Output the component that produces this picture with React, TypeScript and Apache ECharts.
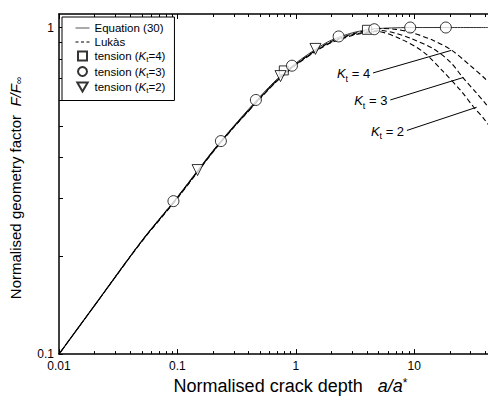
import React, { useEffect, useRef } from "react";
import * as echarts from "echarts";

// ---- data ----
const eqX = [0.01, 0.02, 0.05, 0.1, 0.2, 0.3, 0.5, 0.7, 1, 1.5, 2, 3, 4, 5, 7, 10, 20, 42];
const eqY = [0.1, 0.141, 0.222, 0.303, 0.42, 0.5, 0.615, 0.697, 0.778, 0.862, 0.915, 0.963, 0.984, 0.993, 0.998, 1.0, 1.0, 1.0];

const luk4X = [0.01, 0.02, 0.05, 0.1, 0.2, 0.3, 0.5, 0.7, 1, 1.5, 2, 3, 4, 5.2, 7, 9.25, 14.5, 20.8, 29.6, 39.6, 42];
const luk4Y = [0.1, 0.141, 0.222, 0.302, 0.418, 0.497, 0.61, 0.692, 0.772, 0.855, 0.907, 0.955, 0.98, 0.993, 0.987, 0.968, 0.913, 0.851, 0.766, 0.698, 0.68];

const luk3X = [0.01, 0.02, 0.05, 0.1, 0.2, 0.3, 0.5, 0.7, 1, 1.5, 2, 3, 4, 5.2, 7, 9.25, 14.5, 20.1, 25.5, 33.7, 39.6, 42];
const luk3Y = [0.1, 0.141, 0.222, 0.301, 0.417, 0.496, 0.608, 0.69, 0.77, 0.852, 0.903, 0.95, 0.97, 0.979, 0.96, 0.928, 0.861, 0.785, 0.706, 0.629, 0.588, 0.572];

const luk2X = [0.01, 0.02, 0.05, 0.1, 0.2, 0.3, 0.5, 0.7, 1, 1.5, 2, 3, 3.9, 4.85, 7.6, 12, 17.7, 25.2, 31.6, 38.4, 42];
const luk2Y = [0.1, 0.141, 0.221, 0.3, 0.416, 0.495, 0.606, 0.688, 0.767, 0.849, 0.899, 0.945, 0.963, 0.972, 0.924, 0.841, 0.731, 0.636, 0.572, 0.528, 0.505];

const kt4X = [0.792, 3.99];
const kt4Y = [0.739, 0.984];
const kt3X = [0.0926, 0.233, 0.46, 0.928, 2.3, 4.6, 9.25, 18.5];
const kt3Y = [0.294, 0.449, 0.6, 0.764, 0.939, 0.988, 1.0, 1.0];
const kt2X = [0.148, 0.743, 1.465];
const kt2Y = [0.366, 0.71, 0.86];

// leader lines for the K_t labels: [startX, startY, endX, endY]
const leader4 = [4.49, 0.726, 20.5, 0.851];
const leader3 = [6.28, 0.6, 26.0, 0.703];
const leader2 = [8.68, 0.484, 33.7, 0.57];

const xMajor = [0.01, 0.1, 1, 10];
const xMinor = [
  0.02, 0.03, 0.04, 0.05, 0.06, 0.07, 0.08, 0.09,
  0.2, 0.3, 0.4, 0.5, 0.6, 0.7, 0.8, 0.9,
  2, 3, 4, 5, 6, 7, 8, 9,
  20, 30, 40,
];
const yLabels = [0.1, 1];
const yTicks = [0.1, 0.2, 0.3, 0.4, 0.5, 0.6, 0.7, 0.8, 0.9, 1];

const FONT = "Liberation Sans, Arial, sans-serif";

const zip = (xs: number[], ys: number[]) => xs.map((x, i) => [x, ys[i]]);

const ktRich = {
  k: { fontStyle: "italic", fontSize: 13, lineHeight: 19, verticalAlign: "middle", fontFamily: FONT, color: "#000" },
  t: { fontSize: 9, lineHeight: 9, verticalAlign: "bottom", fontFamily: FONT, color: "#000" },
  n: { fontSize: 13, lineHeight: 19, verticalAlign: "middle", fontFamily: FONT, color: "#000" },
};

const leaderLine = (l: number[], label: string) => ({
  silent: true,
  symbol: ["none", "none"],
  lineStyle: { color: "#000", width: 1, type: "solid" },
  label: {
    show: true,
    position: "start",
    distance: 3,
    formatter: label,
    rich: ktRich,
  },
  emphasis: { disabled: true },
  data: [[{ coord: [l[0], l[1]] }, { coord: [l[2], l[3]] }]],
});

export default function App() {
  const ref = useRef<HTMLDivElement>(null);
  useEffect(() => {
    if (!ref.current) return;
    const chart = echarts.init(ref.current, null, { renderer: "svg" });
    const xBase = { type: "log", logBase: 10, min: 0.01, max: 42, gridIndex: 0, splitLine: { show: false } };
    const yBase = { type: "log", logBase: 10, min: 0.1, max: 1.1, gridIndex: 0, splitLine: { show: false } };
    const dashed = (off: number) => ({ color: "#000", width: 1.1, type: [5, 3], dashOffset: off });
    const legendText = { fontSize: 11.5, lineHeight: 15, verticalAlign: "middle", color: "#000", fontFamily: FONT };
    const option: any = {
      animation: false,
      textStyle: { fontFamily: FONT },
      grid: { left: 58, right: 0, top: 14, bottom: 44, containLabel: false },
      legend: {
        orient: "vertical",
        left: 62,
        top: 17,
        padding: [5, 9, 6, 13],
        itemGap: 2,
        itemWidth: 14,
        itemHeight: 9,
        symbolKeepAspect: true,
        backgroundColor: "#fff",
        borderColor: "#000",
        borderWidth: 1,
        borderRadius: 0,
        selectedMode: false,
        data: [
          { name: "Equation (30)", itemStyle: { opacity: 0 }, lineStyle: { color: "#555", width: 1, type: "solid" } },
          { name: "Lukàs", itemStyle: { opacity: 0 }, lineStyle: { color: "#000", width: 1, type: [3, 2.5] } },
          { name: "t4", icon: "path://M0,0L10,0L10,10L0,10Z", symbolRotate: 0 },
          { name: "t3", icon: "circle", symbolRotate: 0 },
          { name: "t2", icon: "path://M0,0L12,0L6,10.4Z", symbolRotate: 0 },
        ],
        formatter: (name: string) => {
          if (name === "t4") return "{n|tension (}{k|K}{t|t}{n|=4)}";
          if (name === "t3") return "{n|tension (}{k|K}{t|t}{n|=3)}";
          if (name === "t2") return "{n|tension (}{k|K}{t|t}{n|=2)}";
          return "{n|" + name + "}";
        },
        textStyle: {
          fontSize: 11.5,
          color: "#000",
          fontFamily: FONT,
          rich: {
            n: legendText,
            k: { ...legendText, fontStyle: "italic" },
            t: { fontSize: 8, lineHeight: 8, verticalAlign: "bottom", color: "#000", fontFamily: FONT },
          },
        },
      },
      xAxis: [
        {
          ...xBase,
          position: "bottom",
          axisLine: { show: true, lineStyle: { color: "#000", width: 1.5 } },
          axisTick: { show: true, inside: true, length: 5, customValues: xMajor, lineStyle: { color: "#000", width: 1 } },
          axisLabel: { show: true, customValues: xMajor, fontSize: 12, color: "#000", margin: 6, fontFamily: FONT, formatter: (v: number) => String(v) },
          name: "Normalised crack depth   {i|a/a}{n|*}",
          nameLocation: "middle",
          nameGap: 18,
          nameTextStyle: {
            fontSize: 18,
            color: "#000",
            fontFamily: FONT,
            padding: [0, 0, 0, 34],
            rich: {
              i: { fontSize: 18, fontStyle: "italic", color: "#000", fontFamily: FONT },
              n: { fontSize: 12, color: "#000", fontFamily: FONT, verticalAlign: "top" },
            },
          },
        },
        {
          ...xBase,
          position: "bottom",
          axisLine: { show: false },
          axisTick: { show: true, inside: true, length: 3, customValues: xMinor, lineStyle: { color: "#000", width: 1 } },
          axisLabel: { show: false },
        },
        {
          ...xBase,
          position: "top",
          axisLine: { show: true, lineStyle: { color: "#000", width: 1.5 } },
          axisTick: { show: true, inside: true, length: 5, customValues: xMajor, lineStyle: { color: "#000", width: 1 } },
          axisLabel: { show: false },
        },
        {
          ...xBase,
          position: "top",
          axisLine: { show: false },
          axisTick: { show: true, inside: true, length: 3, customValues: xMinor, lineStyle: { color: "#000", width: 1 } },
          axisLabel: { show: false },
        },
      ],
      yAxis: [
        {
          ...yBase,
          position: "left",
          axisLine: { show: true, lineStyle: { color: "#000", width: 1.5 } },
          axisTick: { show: true, inside: true, length: 4, customValues: yTicks, lineStyle: { color: "#000", width: 1 } },
          axisLabel: { show: true, customValues: yLabels, fontSize: 12, color: "#000", margin: 5, fontFamily: FONT, formatter: (v: number) => String(v) },
          name: "Normalised geometry factor  {i|F/F}{s|∞}",
          nameLocation: "middle",
          nameGap: 36,
          nameTextStyle: {
            fontSize: 15,
            color: "#000",
            fontFamily: FONT,
            padding: [0, 8, 0, 0],
            rich: {
              i: { fontSize: 15, fontStyle: "italic", color: "#000", fontFamily: FONT },
              s: { fontSize: 10, color: "#000", fontFamily: FONT, verticalAlign: "bottom" },
            },
          },
        },
      ],
      series: [
        {
          name: "Equation (30)",
          type: "line",
          data: zip(eqX, eqY),
          showSymbol: false,
          symbol: "none",
          smooth: 0.3,
          lineStyle: { color: "#333", width: 1 },
          itemStyle: { color: "#333" },
          z: 2,
        },
        {
          name: "Lukàs",
          type: "line",
          data: zip(luk4X, luk4Y),
          symbol: "none",
          smooth: 0.3,
          lineStyle: dashed(0),
          itemStyle: { color: "#000" },
          markLine: leaderLine(leader4, "{k|K}{t|t}{n| = 4}"),
          z: 3,
        },
        {
          name: "Lukàs",
          type: "line",
          data: zip(luk3X, luk3Y),
          symbol: "none",
          smooth: 0.3,
          lineStyle: dashed(2.7),
          itemStyle: { color: "#000" },
          markLine: leaderLine(leader3, "{k|K}{t|t}{n| = 3}"),
          z: 3,
        },
        {
          name: "Lukàs",
          type: "line",
          data: zip(luk2X, luk2Y),
          symbol: "none",
          smooth: 0.3,
          lineStyle: dashed(5.3),
          itemStyle: { color: "#000" },
          markLine: leaderLine(leader2, "{k|K}{t|t}{n| = 2}"),
          z: 3,
        },
        {
          name: "t4",
          type: "scatter",
          data: zip(kt4X, kt4Y),
          symbol: "rect",
          symbolSize: 9,
          itemStyle: { color: "#fff", borderColor: "#000", borderWidth: 1 },
          z: 5,
        },
        {
          name: "t3",
          type: "scatter",
          data: zip(kt3X, kt3Y),
          symbol: "circle",
          symbolSize: 11,
          itemStyle: { color: "#fff", borderColor: "#000", borderWidth: 1 },
          z: 6,
        },
        {
          name: "t2",
          type: "scatter",
          data: zip(kt2X, kt2Y),
          symbol: "triangle",
          symbolRotate: 180,
          symbolSize: 11,
          itemStyle: { color: "#fff", borderColor: "#000", borderWidth: 1 },
          z: 5,
        },
      ],
    };
    chart.setOption(option);
    return () => chart.dispose();
  }, []);
  return <div ref={ref} style={{ position: "absolute", left: 0, top: 0, width: 488, height: 400 }} />;
}
